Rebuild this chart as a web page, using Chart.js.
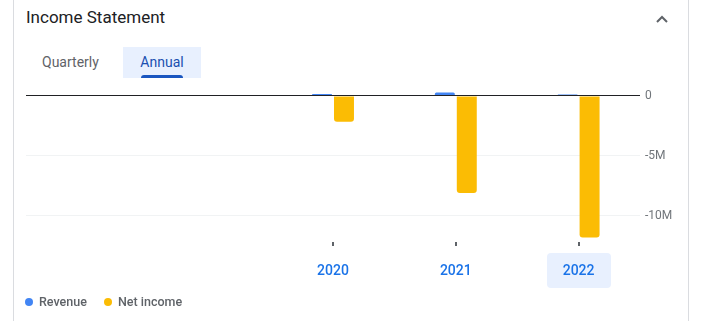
<!DOCTYPE html>
<html>
<head>
<meta charset="utf-8">
<script src="https://cdn.jsdelivr.net/npm/chart.js@4.4.0/dist/chart.umd.min.js"></script>
<style>
  body { margin: 0; width: 704px; height: 321px; background: #fff; font-family: Roboto, "Noto Sans", sans-serif; overflow: hidden; position: relative; }
  .card { position: absolute; left: 13px; top: -10px; width: 674px; height: 340px; border-left: 1px solid #dadce0; border-right: 1px solid #dadce0; }
  .title { position: absolute; left: 26px; top: 7px; font-size: 17px; color: #202124; }
  .chev { position: absolute; left: 655px; top: 12px; }
  .tab { position: absolute; top: 47px; height: 31px; font-size: 14px; line-height: 31px; }
  .tab.q { left: 42px; color: #5f6368; }
  .tab.a { left: 123px; width: 78px; background: #e8f0fe; color: #1a4fb0; text-align: center; }
  .tab.a .ul { position: absolute; left: 18px; bottom: 0; width: 42px; height: 3px; background: #1a56c0; border-radius: 3px 3px 0 0; }
  #chart { position: absolute; left: 14px; top: 80px; }
  .legend { position: absolute; top: 294px; font-size: 12.5px; font-weight: 500; color: #5f6368; }
  .legend span.dot { display: inline-block; width: 8px; height: 8px; border-radius: 50%; margin-right: 6px; vertical-align: 0px; }
</style>
</head>
<body>
<div class="card"></div>
<div class="title">Income Statement</div>
<svg class="chev" width="14" height="14"><polyline points="2,10 7,5 12,10" fill="none" stroke="#5f6368" stroke-width="2"/></svg>
<div class="tab q">Quarterly</div>
<div class="tab a">Annual<div class="ul"></div></div>
<canvas id="chart" width="673" height="216"></canvas>
<div class="legend" style="left:25px"><span class="dot" style="background:#4285f4"></span>Revenue</div>
<div class="legend" style="left:104px"><span class="dot" style="background:#fbbc04"></span>Net income</div>
<script>
// Data (USD)
const years = ['', '', '2020', '2021', '2022']
const revenue = [null, null, 170000, 300000, 120000]
const netIncome = [null, null, -2150000, -8100000, -11800000]
const yTicks = [0, -5000000, -10000000]
const selectedYear = '2022'

// highlight box behind selected year + small tick marks
const extras = {
  id: 'extras',
  beforeDraw(chart) {
    const ctx = chart.ctx
    const x = chart.scales.x
    ctx.save()
    years.forEach((y, i) => {
      if (!y) return
      const px = Math.round(x.getPixelForValue(i))
      if (y === selectedYear) {
        ctx.fillStyle = '#e8f0fe'
        ctx.beginPath()
        ctx.roundRect(px - 32, 173, 64, 35, 4)
        ctx.fill()
      }
      ctx.fillStyle = '#5f6368'
      ctx.fillRect(px - 1, 162, 2, 4)
    })
    ctx.restore()
  },
  afterDatasetsDraw(chart) {
    // zero line drawn on top of bars
    const ctx = chart.ctx
    const a = chart.chartArea
    const py = Math.floor(chart.scales.y.getPixelForValue(0)) + 0.5
    ctx.save()
    ctx.strokeStyle = '#202124'
    ctx.lineWidth = 1
    ctx.beginPath()
    ctx.moveTo(a.left, py)
    ctx.lineTo(a.right, py)
    ctx.stroke()
    ctx.restore()
  }
}

new Chart(document.getElementById('chart'), {
  type: 'bar',
  data: {
    labels: years,
    datasets: [
      { label: 'Revenue', data: revenue, backgroundColor: '#4285f4' },
      { label: 'Net income', data: netIncome, backgroundColor: '#fbbc04' }
    ]
  },
  options: {
    responsive: false,
    devicePixelRatio: 1,
    animation: false,
    layout: { padding: { left: 12, top: 10, right: 0, bottom: 0 } },
    datasets: {
      bar: {
        barPercentage: 20 / 22,
        categoryPercentage: 44 / 123,
        borderRadius: 3,
        borderSkipped: 'start'
      }
    },
    plugins: { legend: { display: false }, tooltip: { enabled: false } },
    scales: {
      x: {
        grid: { display: false, drawTicks: false },
        border: { display: false },
        ticks: {
          padding: 25,
          color: '#1a73e8',
          font: { family: 'Roboto', size: 14, weight: '500' }
        },
        afterFit(s) { s.height = 58 }
      },
      y: {
        position: 'right',
        min: -11850000,
        max: 500000,
        border: { display: false },
        grid: {
          drawTicks: false,
          color: ctx => ctx.tick && ctx.tick.value === 0 ? 'rgba(0,0,0,0)' : '#f1f3f4'
        },
        afterBuildTicks(s) { s.ticks = yTicks.map(v => ({ value: v })) },
        ticks: {
          padding: 5,
          color: '#70757a',
          font: { family: 'Roboto', size: 12 },
          callback: v => v === 0 ? '0' : (v / 1000000) + 'M'
        },
        afterFit(s) { s.width = 47; s.paddingTop = 0; s.paddingBottom = 0 }
      }
    }
  },
  plugins: [extras]
})
</script>
</body>
</html>
